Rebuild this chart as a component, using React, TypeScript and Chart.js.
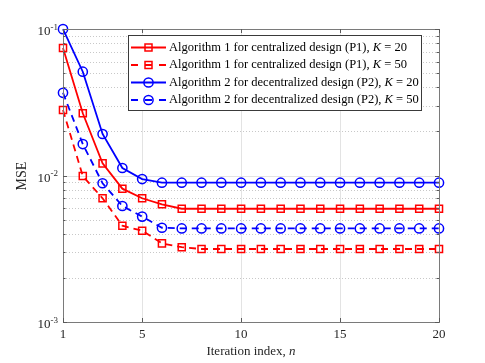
import { useEffect, useRef } from "react";
import { Chart, registerables } from "chart.js";
Chart.register(...registerables);

const iterations = [1, 2, 3, 4, 5, 6, 7, 8, 9, 10, 11, 12, 13, 14, 15, 16, 17, 18, 19, 20];
const alg1K20 = [0.0742, 0.0266, 0.0121, 0.00813, 0.00699, 0.00636, 0.00593, 0.00593, 0.00593, 0.00593, 0.00593, 0.00593, 0.00593, 0.00593, 0.00593, 0.00593, 0.00593, 0.00593, 0.00593, 0.00593];
const alg1K50 = [0.028, 0.00992, 0.00699, 0.00454, 0.0042, 0.00344, 0.00324, 0.00315, 0.00315, 0.00315, 0.00315, 0.00315, 0.00315, 0.00315, 0.00315, 0.00315, 0.00315, 0.00315, 0.00315, 0.00315];
const alg2K20 = [0.0998, 0.0511, 0.0192, 0.01125, 0.00946, 0.00893, 0.00893, 0.00893, 0.00893, 0.00893, 0.00893, 0.00893, 0.00893, 0.00893, 0.00893, 0.00893, 0.00893, 0.00893, 0.00893, 0.00893];
const alg2K50 = [0.0367, 0.0164, 0.00885, 0.00619, 0.00524, 0.0044, 0.00435, 0.00435, 0.00435, 0.00435, 0.00435, 0.00435, 0.00435, 0.00435, 0.00435, 0.00435, 0.00435, 0.00435, 0.00435, 0.00435];

const xTicks = [1, 5, 10, 15, 20];
const yDecades = [0.001, 0.01, 0.1];
const yDecadeExp = ["-3", "-2", "-1"];
const legendTexts = [
  "Algorithm 1 for centralized design (P1), ",
  "Algorithm 1 for centralized design (P1), ",
  "Algorithm 2 for decentralized design (P2), ",
  "Algorithm 2 for decentralized design (P2), ",
];
const legendK = ["20", "50", "20", "50"];

const RED = "#ff0000";
const BLUE = "#0000ff";
const FONT = '"Liberation Serif", "Times New Roman", serif';

const seriesStyles = [
  { data: alg1K20, color: RED, dash: [] as number[], point: "rect" },
  { data: alg1K50, color: RED, dash: [7, 5], point: "rect" },
  { data: alg2K20, color: BLUE, dash: [] as number[], point: "circle" },
  { data: alg2K50, color: BLUE, dash: [7, 5], point: "circle" },
];

function drawMarker(ctx: CanvasRenderingContext2D, kind: string, x: number, y: number, color: string) {
  ctx.save();
  ctx.setLineDash([]);
  ctx.strokeStyle = color;
  ctx.lineWidth = 1.5;
  ctx.beginPath();
  if (kind === "rect") {
    ctx.rect(x - 3.5, y - 3.5, 7, 7);
  } else {
    ctx.arc(x, y, 4.6, 0, Math.PI * 2);
  }
  ctx.stroke();
  ctx.restore();
}

const matlabPlugin = {
  id: "matlabAxes",
  beforeDatasetsDraw(chart: any) {
    const { ctx, chartArea: a, scales } = chart;
    const xs = scales.x;
    const ys = scales.y;
    ctx.save();
    ctx.lineWidth = 1;
    ctx.strokeStyle = "#e3e3e3";
    for (const t of xTicks) {
      const px = Math.round(xs.getPixelForValue(t)) + 0.5;
      ctx.beginPath();
      ctx.moveTo(px, a.top);
      ctx.lineTo(px, a.bottom);
      ctx.stroke();
    }
    for (const d of yDecades) {
      const py = Math.round(ys.getPixelForValue(d)) + 0.5;
      ctx.beginPath();
      ctx.moveTo(a.left, py);
      ctx.lineTo(a.right, py);
      ctx.stroke();
    }
    ctx.strokeStyle = "#c8c8c8";
    ctx.setLineDash([1, 2]);
    for (const d of [0.001, 0.01]) {
      for (let m = 2; m <= 9; m++) {
        const py = Math.round(ys.getPixelForValue(d * m)) + 0.5;
        ctx.beginPath();
        ctx.moveTo(a.left, py);
        ctx.lineTo(a.right, py);
        ctx.stroke();
      }
    }
    ctx.restore();
  },
  afterDraw(chart: any) {
    const { ctx, chartArea: a, scales } = chart;
    const xs = scales.x;
    const ys = scales.y;
    ctx.save();
    ctx.strokeStyle = "#7a7a7a";
    ctx.lineWidth = 1;
    ctx.setLineDash([]);
    ctx.strokeRect(Math.round(a.left) + 0.5, Math.round(a.top) + 0.5, Math.round(a.right - a.left), Math.round(a.bottom - a.top));
    ctx.strokeStyle = "#5a5a5a";
    for (const t of xTicks) {
      const px = Math.round(xs.getPixelForValue(t)) + 0.5;
      ctx.beginPath();
      ctx.moveTo(px, a.bottom);
      ctx.lineTo(px, a.bottom - 4);
      ctx.moveTo(px, a.top);
      ctx.lineTo(px, a.top + 4);
      ctx.stroke();
    }
    for (const d of yDecades) {
      const py = Math.round(ys.getPixelForValue(d)) + 0.5;
      ctx.beginPath();
      ctx.moveTo(a.left, py);
      ctx.lineTo(a.left + 4, py);
      ctx.moveTo(a.right, py);
      ctx.lineTo(a.right - 4, py);
      ctx.stroke();
    }
    for (const d of [0.001, 0.01]) {
      for (let m = 2; m <= 9; m++) {
        const py = Math.round(ys.getPixelForValue(d * m)) + 0.5;
        ctx.beginPath();
        ctx.moveTo(a.left, py);
        ctx.lineTo(a.left + 2.5, py);
        ctx.moveTo(a.right, py);
        ctx.lineTo(a.right - 2.5, py);
        ctx.stroke();
      }
    }
    ctx.fillStyle = "#262626";
    ctx.font = "13px " + FONT;
    ctx.textAlign = "center";
    ctx.textBaseline = "middle";
    for (const t of xTicks) {
      ctx.fillText(String(t), xs.getPixelForValue(t), a.bottom + 13);
    }
    yDecades.forEach((d, i) => {
      const py = ys.getPixelForValue(d);
      ctx.font = "9px " + FONT;
      const supW = ctx.measureText(yDecadeExp[i]).width;
      ctx.textAlign = "right";
      ctx.textBaseline = "alphabetic";
      ctx.fillText(yDecadeExp[i], a.left - 5, py + 0.5);
      ctx.font = "13px " + FONT;
      ctx.fillText("10", a.left - 5 - supW, py + 6);
    });
    ctx.textBaseline = "middle";
    const p1 = "Iteration index, ";
    ctx.font = "13px " + FONT;
    const w1 = ctx.measureText(p1).width;
    ctx.font = "italic 13px " + FONT;
    const w2 = ctx.measureText("n").width;
    const cx = (a.left + a.right) / 2;
    const sx = cx - (w1 + w2) / 2;
    ctx.textAlign = "left";
    ctx.font = "13px " + FONT;
    ctx.fillText(p1, sx, a.bottom + 30);
    ctx.font = "italic 13px " + FONT;
    ctx.fillText("n", sx + w1, a.bottom + 30);
    ctx.save();
    ctx.translate(22, (a.top + a.bottom) / 2 + 0.5);
    ctx.rotate(-Math.PI / 2);
    ctx.textAlign = "center";
    ctx.font = "14px " + FONT;
    ctx.fillText("MSE", 0, 0);
    ctx.restore();

    const lx = 128, ly = 35, lw = 293, lh = 75;
    ctx.fillStyle = "#ffffff";
    ctx.fillRect(lx, ly, lw, lh);
    ctx.strokeStyle = "#3a3a3a";
    ctx.lineWidth = 1;
    ctx.strokeRect(lx + 0.5, ly + 0.5, lw, lh);
    seriesStyles.forEach((s, i) => {
      const y = ly + 12.5 + i * 17.5;
      ctx.save();
      ctx.strokeStyle = s.color;
      ctx.lineWidth = 1.8;
      ctx.setLineDash(s.dash.length ? [7, 7] : []);
      ctx.beginPath();
      ctx.moveTo(131, y);
      ctx.lineTo(166, y);
      ctx.stroke();
      ctx.restore();
      drawMarker(ctx, s.point, 148.5, y, s.color);
      ctx.fillStyle = "#000000";
      ctx.textAlign = "left";
      ctx.textBaseline = "middle";
      let tx = 169;
      ctx.font = "12.5px " + FONT;
      ctx.fillText(legendTexts[i], tx, y);
      tx += ctx.measureText(legendTexts[i]).width;
      ctx.font = "italic 12.5px " + FONT;
      ctx.fillText("K", tx, y);
      tx += ctx.measureText("K").width;
      ctx.font = "12.5px " + FONT;
      ctx.fillText(" = " + legendK[i], tx, y);
    });
    ctx.restore();
  },
};

export default function App() {
  const ref = useRef<HTMLCanvasElement | null>(null);
  useEffect(() => {
    if (!ref.current) return;
    const chart = new Chart(ref.current, {
      type: "line",
      data: {
        labels: iterations,
        datasets: seriesStyles.map((s) => ({
          data: iterations.map((x, i) => ({ x, y: s.data[i] })),
          borderColor: s.color,
          borderWidth: 1.8,
          borderDash: s.dash,
          pointStyle: s.point as any,
          pointRadius: s.point === "rect" ? 5 : 4.6,
          pointBorderWidth: 1.5,
          pointBorderColor: s.color,
          pointBackgroundColor: "rgba(0,0,0,0)",
          fill: false,
          tension: 0,
          clip: false as any,
        })),
      },
      options: {
        animation: false,
        responsive: false,
        maintainAspectRatio: false,
        layout: { padding: { left: 63, top: 29, right: 46, bottom: 41 } },
        plugins: { legend: { display: false }, tooltip: { enabled: false } },
        scales: {
          x: { type: "linear", min: 1, max: 20, display: false },
          y: { type: "logarithmic", min: 0.001, max: 0.1, display: false },
        },
      },
      plugins: [matlabPlugin],
    });
    return () => chart.destroy();
  }, []);
  return (
    <div style={{ position: "fixed", left: 0, top: 0, width: 485, height: 363, background: "#fff" }}>
      <canvas ref={ref} width={485} height={363} style={{ width: 485, height: 363 }} />
    </div>
  );
}
